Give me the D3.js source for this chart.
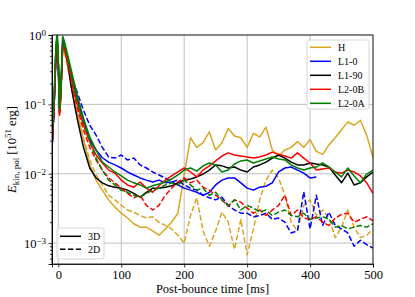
<html>
<head>
<meta charset="utf-8">
<title>Ekin pol vs post-bounce time</title>
<style type="text/css">
    body { margin: 0; background: #fff; }
    svg { font-family: "Liberation Serif", "Times New Roman", serif; }
</style>
</head>
<body>
<script src="https://d3js.org/d3.v7.min.js"></script>
<script>

    // post-bounce time [ms], shared by every run
    var time = [-10, -7, -4, -2, 0, 2, 4, 7, 10, 15, 20, 25, 30,
        40, 50, 60, 70, 80, 90, 100, 110, 120, 130, 140, 150, 160, 170, 180, 190, 200,
        210, 220, 230, 240, 250, 260, 270, 280, 290, 300, 310, 320, 330, 340, 350,
        360, 370, 380, 390, 400, 410, 420, 430, 440, 450, 460, 470, 480, 490, 500];

    // E_kin,pol [1e51 erg]
    var hSolid = [0.026, 0.082, 0.51, 1.06, 0.40, 0.070, 0.136, 0.71, 0.60, 0.37, 0.22, 0.127, 0.077,
        0.031, 0.0134, 0.0081, 0.0058, 0.0042, 0.0033, 0.0027, 0.0023, 0.0019, 0.0017, 0.0017, 0.0015, 0.0013, 0.0016, 0.0020, 0.0027, 0.0096,
        0.033, 0.024, 0.028, 0.040, 0.022, 0.028, 0.045, 0.035, 0.033, 0.024, 0.038, 0.034, 0.047, 0.022, 0.018,
        0.022, 0.024, 0.029, 0.024, 0.031, 0.021, 0.019, 0.026, 0.033, 0.043, 0.056, 0.050, 0.059, 0.036, 0.017];
    var hDashed = [0.024, 0.077, 0.46, 1.02, 0.37, 0.075, 0.136, 0.64, 0.56, 0.33, 0.21, 0.123, 0.075,
        0.033, 0.0158, 0.0096, 0.0069, 0.0049, 0.0042, 0.0035, 0.0030, 0.0028, 0.0025, 0.0023, 0.0024, 0.0020, 0.0018, 0.0016, 0.0013, 0.0010,
        0.0025, 0.0045, 0.0015, 0.00090, 0.0015, 0.0028, 0.0020, 0.00081, 0.0022, 0.00068, 0.0016, 0.0042, 0.0081, 0.0113, 0.0087,
        0.0049, 0.0020, 0.0015, 0.0035, 0.0042, 0.0025, 0.0030, 0.0023, 0.0012, 0.0017, 0.0030, 0.0017, 0.0012, 0.0013, 0.0016];
    // L1-0 3D stops at ~410 ms
    var l10Solid = [0.022, 0.077, 0.43, 0.90, 0.40, 0.082, 0.15, 0.84, 0.71, 0.46, 0.29, 0.19, 0.123,
        0.059, 0.031, 0.022, 0.017, 0.0147, 0.0134, 0.0121, 0.0106, 0.0096, 0.0087, 0.0081, 0.0076, 0.0081, 0.0074, 0.0076, 0.0069, 0.0062,
        0.0058, 0.0054, 0.0049, 0.0054, 0.0069, 0.0081, 0.0087, 0.0087, 0.0074, 0.0062, 0.0058, 0.0064, 0.0066, 0.0074, 0.0106,
        0.0121, 0.0125, 0.0113, 0.0102, 0.0087, 0.0090, null, null, null, null, null, null, null, null, null];
    var l10Dashed = [0.022, 0.082, 0.40, 0.84, 0.37, 0.088, 0.16, 0.79, 0.71, 0.48, 0.29, 0.20, 0.15,
        0.082, 0.050, 0.036, 0.024, 0.0174, 0.0168, 0.0186, 0.0158, 0.0168, 0.0134, 0.0121, 0.0106, 0.0096, 0.0087, 0.0076, 0.0081, 0.0069,
        0.0062, 0.0058, 0.0049, 0.0045, 0.0042, 0.0046, 0.0035, 0.0030, 0.0027, 0.0027, 0.0024, 0.0025, 0.0027, 0.0022, 0.0023,
        0.0020, 0.0014, 0.0015, 0.0055, 0.0016, 0.0049, 0.0018, 0.0028, 0.0018, 0.0016, 0.0014, 0.00090, 0.0011, 0.00095, 0.00085];
    var l190Solid = [0.024, 0.077, 0.51, 0.99, 0.40, 0.077, 0.136, 0.74, 0.64, 0.40, 0.19, 0.108, 0.063,
        0.024, 0.0121, 0.0087, 0.0074, 0.0067, 0.0064, 0.0062, 0.0058, 0.0052, 0.0046, 0.0054, 0.0062, 0.0062, 0.0064, 0.0067, 0.0074, 0.0081,
        0.0084, 0.0090, 0.0099, 0.0113, 0.0134, 0.0130, 0.0121, 0.0125, 0.0113, 0.0106, 0.0125, 0.0134, 0.0147, 0.0168, 0.0186,
        0.0168, 0.0147, 0.0134, 0.0134, 0.0143, 0.0138, 0.0134, 0.0125, 0.0096, 0.0074, 0.0102, 0.0069, 0.0074, 0.0090, 0.0106];
    var l20bSolid = [0.026, 0.088, 0.51, 0.96, 0.37, 0.075, 0.136, 0.71, 0.64, 0.43, 0.26, 0.16, 0.104,
        0.050, 0.029, 0.0186, 0.0143, 0.0113, 0.0102, 0.0081, 0.0069, 0.0064, 0.0076, 0.0062, 0.0054, 0.0067, 0.0081, 0.0093, 0.0106, 0.0121,
        0.0106, 0.0090, 0.0113, 0.0130, 0.0153, 0.018, 0.020, 0.0186, 0.018, 0.0174, 0.0168, 0.0174, 0.0186, 0.0205, 0.0192,
        0.018, 0.0168, 0.020, 0.0168, 0.0143, 0.0113, 0.0117, 0.0121, 0.0106, 0.0102, 0.0113, 0.0106, 0.0093, 0.0074, 0.0052];
    var l20bDashed = [0.024, 0.077, 0.48, 0.90, 0.33, 0.070, 0.127, 0.67, 0.60, 0.39, 0.24, 0.145, 0.091,
        0.043, 0.024, 0.0158, 0.0113, 0.0087, 0.0074, 0.0062, 0.0052, 0.0045, 0.0049, 0.0035, 0.0030, 0.0035, 0.0049, 0.0062, 0.0076, 0.0087,
        0.0074, 0.0081, 0.0064, 0.0058, 0.0049, 0.0042, 0.0034, 0.0042, 0.0039, 0.0032, 0.0027, 0.0030, 0.0025, 0.0030, 0.0035,
        0.0049, 0.0025, 0.0030, 0.0023, 0.0022, 0.0024, 0.0020, 0.0018, 0.0023, 0.0026, 0.0027, 0.0020, 0.0022, 0.0024, 0.0021];
    var l20aSolid = [0.036, 0.115, 0.64, 1.06, 0.51, 0.088, 0.17, 0.96, 0.79, 0.51, 0.33, 0.21, 0.136,
        0.063, 0.034, 0.022, 0.0147, 0.0125, 0.0106, 0.0093, 0.0081, 0.0074, 0.0069, 0.0062, 0.0067, 0.0071, 0.0076, 0.0084, 0.0096, 0.0113,
        0.0121, 0.0109, 0.0130, 0.0143, 0.0134, 0.0106, 0.0113, 0.0138, 0.0153, 0.0158, 0.0143, 0.0153, 0.0163, 0.0174, 0.0163,
        0.0158, 0.0134, 0.0121, 0.0113, 0.0121, 0.0125, 0.0143, 0.0125, 0.0106, 0.0090, 0.0121, 0.0093, 0.0074, 0.0099, 0.0113];
    var l20aDashed = [0.031, 0.097, 0.56, 0.99, 0.43, 0.082, 0.15, 0.84, 0.71, 0.46, 0.29, 0.18, 0.115,
        0.056, 0.029, 0.0168, 0.0113, 0.0081, 0.0069, 0.0058, 0.0054, 0.0049, 0.0046, 0.0052, 0.0058, 0.0062, 0.0069, 0.0074, 0.0069, 0.0081,
        0.0069, 0.0058, 0.0062, 0.0049, 0.0054, 0.0042, 0.0035, 0.0042, 0.0030, 0.0035, 0.0032, 0.0028, 0.0030, 0.0025, 0.0028,
        0.0030, 0.0025, 0.0024, 0.0027, 0.0022, 0.0023, 0.0024, 0.0022, 0.0017, 0.0018, 0.0016, 0.0017, 0.0018, 0.0017, 0.0019];

    var models = ["H", "L1-0", "L1-90", "L2-0B", "L2-0A"];
    var colors = ["#daa520", "#0000ff", "#000000", "#ff0000", "#008000"];
    var dims = ["3D", "2D"];
    var xTicks = [0, 100, 200, 300, 400, 500];
    var yDecades = [-3, -2, -1, 0];

    var runs = [
        {model: "H", dim: "3D", values: hSolid},
        {model: "H", dim: "2D", values: hDashed},
        {model: "L1-0", dim: "3D", values: l10Solid},
        {model: "L1-0", dim: "2D", values: l10Dashed},
        {model: "L1-90", dim: "3D", values: l190Solid},
        {model: "L2-0B", dim: "3D", values: l20bSolid},
        {model: "L2-0B", dim: "2D", values: l20bDashed},
        {model: "L2-0A", dim: "3D", values: l20aSolid},
        {model: "L2-0A", dim: "2D", values: l20aDashed}
    ];

    var serif = "'Liberation Serif', 'Times New Roman', serif";

    var margin = {top: 35, right: 42, bottom: 33, left: 52},
        width = 415 - margin.left - margin.right,
        height = 297 - margin.top - margin.bottom;

    var x = d3.scaleLinear().domain([-10, 500]).range([0, width]);
    var y = d3.scaleLog().domain([5e-4, 1]).range([height, 0]);
    var color = d3.scaleOrdinal().domain(models).range(colors);
    var dash = {"3D": null, "2D": "5.5,2.4"};

    var svg = d3.select("body").append("svg")
        .attr("width", 415)
        .attr("height", 297)
        .append("g")
        .attr("transform", "translate(" + margin.left + "," + margin.top + ")");

    svg.append("clipPath").attr("id", "plotclip")
        .append("rect").attr("width", width).attr("height", height);

    // grid
    svg.append("g").selectAll("line").data(xTicks).enter().append("line")
        .attr("x1", function(d) { return x(d); }).attr("x2", function(d) { return x(d); })
        .attr("y1", 0).attr("y2", height)
        .style("stroke", "#b0b0b0").style("stroke-width", 0.8);
    svg.append("g").selectAll("line").data(yDecades).enter().append("line")
        .attr("x1", 0).attr("x2", width)
        .attr("y1", function(d) { return y(Math.pow(10, d)); })
        .attr("y2", function(d) { return y(Math.pow(10, d)); })
        .style("stroke", "#b0b0b0").style("stroke-width", 0.8);

    // curves
    var line = d3.line()
        .defined(function(d) { return d[1] != null; })
        .x(function(d) { return x(d[0]); })
        .y(function(d) { return y(d[1]); });

    svg.append("g").attr("clip-path", "url(#plotclip)")
        .selectAll("path").data(runs).enter().append("path")
        .attr("d", function(r) { return line(r.values.map(function(v, i) { return [time[i], v]; })); })
        .style("fill", "none")
        .style("stroke", function(r) { return color(r.model); })
        .style("stroke-width", 1.5)
        .style("stroke-dasharray", function(r) { return dash[r.dim]; })
        .style("stroke-linejoin", "round");

    // axes
    var xAxis = svg.append("g")
        .attr("transform", "translate(0," + height + ")")
        .call(d3.axisBottom(x).tickValues(xTicks).tickSize(3.5).tickPadding(2.5));
    xAxis.attr("font-family", serif).attr("font-size", 12.5);
    xAxis.selectAll("text").style("fill", "#000");

    var minor = [];
    [-4, -3, -2, -1].forEach(function(e) {
        for (var k = 2; k < 10; k++) {
            var v = k * Math.pow(10, e);
            if (v >= 5e-4 && v < 1) minor.push(v);
        }
    });
    svg.append("g").call(d3.axisLeft(y).tickValues(minor).tickSize(2).tickFormat(""));
    svg.append("g")
        .call(d3.axisLeft(y).tickValues(yDecades.map(function(d) { return Math.pow(10, d); }))
            .tickSize(3.5).tickFormat(""));

    var yLab = svg.append("g").selectAll("text").data(yDecades).enter().append("text")
        .attr("x", -6)
        .attr("y", function(d) { return y(Math.pow(10, d)); })
        .attr("dy", "0.4em")
        .attr("text-anchor", "end")
        .style("font-size", "12.5px");
    yLab.append("tspan").text("10");
    yLab.append("tspan")
        .attr("dy", "-0.45em")
        .style("font-size", "9px")
        .text(function(d) { return d < 0 ? "\u2212" + (-d) : "" + d; });

    svg.selectAll(".domain").style("stroke", "#000").style("stroke-width", 0.8);
    svg.selectAll(".tick line").style("stroke", "#000").style("stroke-width", 0.8);

    // frame
    svg.append("rect").attr("width", width).attr("height", height)
        .style("fill", "none").style("stroke", "#000").style("stroke-width", 0.8);

    // axis titles
    svg.append("text")
        .attr("x", width / 2)
        .attr("y", height + 28.5)
        .attr("text-anchor", "middle")
        .style("font-size", "12.5px")
        .text("Post-bounce time [ms]");

    var ylabel = svg.append("text")
        .attr("transform", "translate(" + (16 - margin.left) + "," + height / 2 + ") rotate(-90)")
        .attr("text-anchor", "middle")
        .style("font-size", "12.5px");
    ylabel.append("tspan").style("font-style", "italic").text("E");
    ylabel.append("tspan").attr("dy", 3).style("font-size", "9px").text("kin, pol");
    ylabel.append("tspan").attr("dy", -3).text(" [10");
    ylabel.append("tspan").attr("dy", -5).style("font-size", "9px").text("51");
    ylabel.append("tspan").attr("dy", 5).text(" erg]");

    // model legend
    var leg = svg.append("g").attr("transform", "translate(" + (307 - margin.left) + "," + (40 - margin.top) + ")");
    leg.append("rect").attr("width", 62).attr("height", 69).attr("rx", 2)
        .style("fill", "#fff").style("fill-opacity", 0.8)
        .style("stroke", "#cccccc").style("stroke-width", 0.8);
    var items = leg.selectAll(".item").data(models).enter().append("g")
        .attr("transform", function(d, i) { return "translate(0," + (7.3 + i * 14) + ")"; });
    items.append("line").attr("x1", 3).attr("x2", 24)
        .style("stroke", function(d) { return color(d); }).style("stroke-width", 1.5);
    items.append("text").attr("x", 31).attr("dy", "0.35em")
        .style("font-size", "10px").text(function(d) { return d; });

    // dimension legend
    var leg2 = svg.append("g").attr("transform", "translate(" + (57 - margin.left) + "," + (228 - margin.top) + ")");
    leg2.append("rect").attr("width", 47).attr("height", 31).attr("rx", 2)
        .style("fill", "#fff").style("fill-opacity", 0.8)
        .style("stroke", "#cccccc").style("stroke-width", 0.8);
    var items2 = leg2.selectAll(".item").data(dims).enter().append("g")
        .attr("transform", function(d, i) { return "translate(0," + (8.3 + i * 13) + ")"; });
    items2.append("line").attr("x1", 3).attr("x2", 24)
        .style("stroke", "#000").style("stroke-width", 1.5)
        .style("stroke-dasharray", function(d) { return dash[d]; });
    items2.append("text").attr("x", 31).attr("dy", "0.35em")
        .style("font-size", "10px").text(function(d) { return d; });

</script>
</body>
</html>
